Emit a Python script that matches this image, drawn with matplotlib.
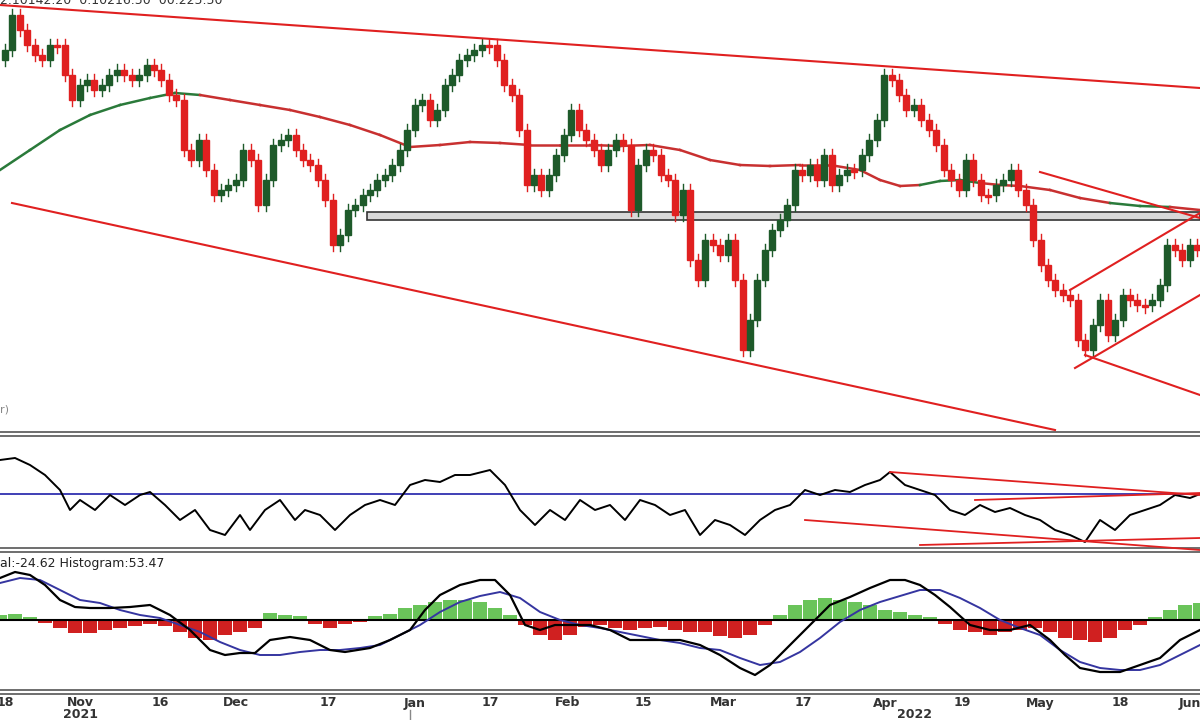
import numpy as np
import matplotlib
matplotlib.use('Agg')
import matplotlib.pyplot as plt

# all values are in chart (screen) units, 0 at top
candle_x = np.arange(5, 1200, 7.45)[:161]
candle_close = [50, 15, 30, 45, 55, 60, 45, 45, 75, 100, 85, 80, 90, 85, 75, 70, 75, 80, 75, 65,
                70, 80, 95, 100, 150, 160, 140, 170, 195, 190, 185, 180, 150, 160, 205, 180, 145, 140, 135, 150,
                160, 165, 180, 200, 245, 235, 210, 205, 195, 190, 180, 175, 165, 150, 130, 105, 100, 120, 110, 85,
                75, 60, 55, 50, 45, 45, 60, 85, 95, 130, 185, 175, 190, 175, 155, 135, 110, 130, 140, 150,
                165, 150, 140, 145, 210, 165, 150, 155, 175, 180, 215, 190, 260, 280, 240, 245, 255, 240, 280, 350,
                320, 280, 250, 230, 220, 205, 170, 175, 165, 180, 155, 185, 175, 170, 170, 155, 140, 120, 75, 80,
                95, 110, 105, 120, 130, 145, 170, 180, 190, 160, 180, 195, 195, 185, 180, 170, 190, 205, 240, 265,
                280, 290, 295, 300, 340, 350, 325, 300, 335, 320, 295, 300, 305, 305, 300, 285, 245, 250, 260, 245, 250]

ma_x = [0, 30, 60, 90, 120, 150, 175, 200, 230, 260, 290, 320, 350, 380, 410, 440, 470, 500, 530, 560, 590,
        620, 650, 680, 710, 740, 770, 800, 830, 860, 880, 900, 920, 940, 960, 980, 1000, 1020, 1050, 1080,
        1110, 1140, 1170, 1200]
ma_y = [170, 150, 130, 115, 105, 98, 93, 95, 100, 105, 110, 117, 125, 135, 147, 145, 142, 143, 145, 145, 145,
        146, 145, 150, 160, 165, 166, 165, 165, 170, 180, 186, 185, 181, 180, 183, 185, 186, 190, 198,
        203, 206, 207, 210]
# which MA segments are drawn green (rising) in the original
ma_green = [0, 1, 2, 3, 4, 5, 6, 32, 33, 34, 40, 41]

rsi_x = [0, 15, 30, 45, 60, 70, 80, 95, 110, 125, 140, 150, 165, 180, 195, 210, 225, 240, 250, 265, 280, 295,
         305, 320, 335, 350, 365, 380, 395, 410, 425, 440, 455, 470, 490, 505, 520, 535, 550, 565, 580, 595,
         610, 625, 640, 655, 670, 685, 700, 715, 730, 745, 760, 775, 790, 805, 820, 835, 850, 865, 880, 890,
         905, 920, 935, 950, 965, 980, 995, 1010, 1025, 1040, 1055, 1070, 1085, 1100, 1115, 1130, 1145, 1160,
         1175, 1190, 1200]
rsi_y = [460, 458, 465, 475, 490, 510, 500, 510, 495, 505, 495, 492, 505, 520, 510, 530, 535, 515, 530, 510,
         500, 520, 510, 515, 530, 515, 505, 500, 505, 485, 480, 482, 475, 475, 470, 485, 510, 525, 510, 520,
         500, 510, 505, 520, 500, 505, 515, 510, 535, 520, 525, 535, 520, 510, 505, 490, 495, 490, 492, 485,
         480, 472, 485, 490, 495, 510, 515, 505, 512, 508, 515, 520, 530, 535, 542, 520, 530, 515, 510, 505,
         495, 498, 494]

macd_x = [0, 15, 30, 45, 60, 75, 90, 110, 130, 150, 170, 190, 210, 225, 240, 255, 270, 290, 310, 330, 345,
          370, 390, 410, 425, 440, 460, 480, 495, 510, 525, 540, 555, 570, 590, 610, 630, 650, 665, 680, 700,
          720, 740, 755, 770, 790, 810, 830, 850, 870, 890, 905, 920, 935, 950, 970, 990, 1010, 1030, 1050,
          1065, 1080, 1100, 1120, 1140, 1160, 1180, 1200]
macd_y = [578, 572, 575, 585, 600, 607, 608, 608, 607, 605, 615, 630, 650, 655, 653, 653, 640, 637, 640, 650,
          652, 648, 640, 630, 610, 595, 585, 580, 580, 595, 625, 630, 625, 625, 625, 630, 640, 640, 640, 640,
          645, 655, 668, 675, 665, 645, 625, 605, 597, 588, 580, 580, 585, 595, 607, 625, 630, 630, 625, 640,
          655, 668, 672, 672, 665, 658, 640, 630]
signal_x = list(range(0, 1201, 20))
signal_y = [583, 578, 580, 590, 600, 603, 610, 615, 618, 625, 632, 642, 650, 655, 655, 652, 650, 650, 648, 645,
            635, 625, 612, 602, 596, 592, 598, 612, 620, 625, 628, 632, 636, 640, 643, 648, 650, 658, 665, 662,
            652, 638, 622, 610, 602, 596, 590, 590, 598, 608, 620, 628, 635, 650, 662, 668, 670, 670, 665, 655, 645]
hist_x = list(range(0, 1201, 15))
hist_v = [5, 6, 3, -3, -8, -13, -13, -10, -8, -6, -4, -6, -12, -18, -20, -15, -12, -8, 7, 5, 4, -4, -8, -4,
          -2, 4, 6, 12, 15, 18, 20, 20, 18, 12, 5, -5, -15, -20, -15, -7, -5, -8, -10, -8, -7, -10, -12, -12,
          -16, -18, -15, -5, 5, 15, 20, 22, 20, 18, 15, 10, 8, 5, 3, -4, -10, -12, -15, -12, -10, -8, -12, -18,
          -20, -22, -18, -10, -5, 3, 10, 15, 17]

tick_x = [5, 80, 160, 236, 328, 415, 490, 568, 643, 723, 803, 885, 962, 1040, 1120, 1190]
tick_labels = ['18', 'Nov', '16', 'Dec', '17', 'Jan', '17', 'Feb', '15', 'Mar', '17', 'Apr', '19', 'May', '18', 'Jun']

RED = '#e02020'
GREEN = '#1e5a2a'

fig = plt.figure(figsize=(12, 7.2), dpi=100)
ax = fig.add_axes([0, 0, 1, 1])
ax.set_xlim(0, 1200)
ax.set_ylim(720, 0)
ax.axis('off')

# support band
ax.add_patch(plt.Rectangle((367, 212), 833, 8, facecolor='#d8d8d8', edgecolor='#333333', lw=1.2, zorder=1))

# candles
prev = candle_close[0] + 10
for x, c in zip(candle_x, candle_close):
    o = prev
    up = c < o
    col = GREEN if up else RED
    top, bot = min(o, c), max(o, c)
    if bot - top < 2:
        bot = top + 2
    ax.plot([x, x], [top - 6, bot + 6], color=col, lw=1, zorder=3)
    ax.add_patch(plt.Rectangle((x - 3, top), 6, bot - top, facecolor=col, edgecolor=col, zorder=4))
    prev = c

# moving average, green rising / red falling
for i in range(len(ma_x) - 1):
    col = '#2a7a3a' if i in ma_green else '#c83030'
    ax.plot(ma_x[i:i + 2], ma_y[i:i + 2], color=col, lw=1.8, zorder=2)

# trend lines
for xs, ys in [((0, 1200), (5, 88)), ((12, 1055), (203, 430)), ((1040, 1200), (172, 218)),
               ((1070, 1200), (290, 213)), ((1075, 1200), (368, 295)), ((1085, 1200), (355, 395))]:
    ax.plot(xs, ys, color=RED, lw=1.5, zorder=5)

ax.text(0, 0, '2.10142.20  0.10216.50  00.225.50', fontsize=9, va='center', color='#333333')
ax.text(0, 410, 'r)', fontsize=8, va='center', color='#888888')

# panel separators
for y in (432, 436, 548, 552, 690, 694):
    ax.plot([0, 1200], [y, y], color='#555555', lw=1.2)

# RSI panel
ax.plot([0, 1200], [494, 494], color='#3030b0', lw=1.3)
ax.plot(rsi_x, rsi_y, color='black', lw=1.4)
for xs, ys in [((890, 1200), (472, 495)), ((975, 1200), (500, 493)),
               ((805, 1200), (520, 550)), ((920, 1200), (545, 538))]:
    ax.plot(xs, ys, color=RED, lw=1.3)

# MACD panel
zero = 620
ax.bar(hist_x, [-v for v in hist_v], bottom=zero, width=14,
       color=['#6ac45a' if v > 0 else '#d02020' for v in hist_v], zorder=1)
ax.plot([0, 1200], [zero, zero], color='black', lw=1.5)
ax.plot(signal_x, signal_y, color='#3535a0', lw=1.4)
ax.plot(macd_x, macd_y, color='black', lw=1.6)
ax.text(0, 563, 'al:-24.62 Histogram:53.47', fontsize=9, va='center', color='#222222')

# date axis
for x, lab in zip(tick_x, tick_labels):
    ax.text(x, 703, lab, fontsize=9, ha='center', va='center', color='#333333', fontweight='bold')
ax.plot([410, 410], [710, 720], color='#888888', lw=1)
ax.text(80, 715, '2021', fontsize=9, ha='center', va='center', fontweight='bold', color='#333333')
ax.text(915, 715, '2022', fontsize=9, ha='center', va='center', fontweight='bold', color='#333333')

fig.savefig('out.png', dpi=100)
